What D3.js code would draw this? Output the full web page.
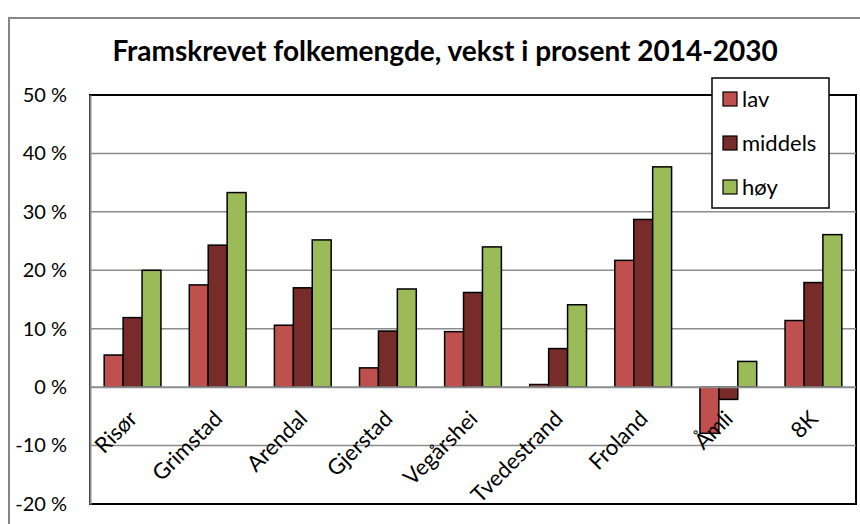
<!DOCTYPE html>
<html>
<head>
<meta charset="utf-8">
<script src="https://cdn.jsdelivr.net/npm/d3@7"></script>
<style>
  body { margin: 0; background: #fff; }
  text { font-family: Lato, "Open Sans", sans-serif; fill: #000; }
</style>
</head>
<body>
<div id="chart"></div>
<script>
const categories = ["Risør", "Grimstad", "Arendal", "Gjerstad", "Vegårshei", "Tvedestrand", "Froland", "Åmli", "8K"]
const seriesNames = ["lav", "middels", "høy"]
const lav = [5.5, 17.5, 10.6, 3.3, 9.5, 0.45, 21.7, -7.9, 11.4]
const middels = [11.9, 24.3, 17.0, 9.6, 16.2, 6.6, 28.7, -2.1, 17.9]
const hoy = [20.0, 33.3, 25.2, 16.8, 24.0, 14.1, 37.7, 4.4, 26.1]
const yTicks = [-20, -10, 0, 10, 20, 30, 40, 50]
const colors = ["#C0504D", "#772C2A", "#9BBB59"]

const width = 860, height = 524
const plot = { left: 90, top: 95, right: 856, bottom: 504 }

const svg = d3.select("#chart").append("svg")
  .attr("width", width)
  .attr("height", height)

// outer chart frame
svg.append("rect")
  .attr("x", 9).attr("y", 18)
  .attr("width", 880).attr("height", 540)
  .attr("fill", "#fff")
  .attr("stroke", "#868686")
  .attr("stroke-width", 2)

svg.append("text")
  .attr("x", 445).attr("y", 61)
  .attr("text-anchor", "middle")
  .style("font-size", "28px")
  .style("font-weight", "bold")
  .text("Framskrevet folkemengde, vekst i prosent 2014-2030")

const x0 = d3.scaleBand()
  .domain(categories)
  .range([plot.left, plot.right])
  .paddingInner(0.333)
  .paddingOuter(0.1667)

const x1 = d3.scaleBand()
  .domain(seriesNames)
  .range([0, x0.bandwidth()])

const y = d3.scaleLinear()
  .domain([-20, 50])
  .range([plot.bottom, plot.top])

// plot area border
svg.append("rect")
  .attr("x", plot.left).attr("y", plot.top)
  .attr("width", plot.right - plot.left)
  .attr("height", plot.bottom - plot.top)
  .attr("fill", "none")
  .attr("stroke", "#000")
  .attr("stroke-width", 2)

// gridlines
svg.append("g")
  .selectAll("line")
  .data(yTicks.filter(d => d !== 50 && d !== -20 && d !== 0))
  .join("line")
  .attr("x1", plot.left).attr("x2", plot.right)
  .attr("y1", d => y(d)).attr("y2", d => y(d))
  .attr("stroke", "#8c8c8c")
  .attr("stroke-width", 1.5)

// y axis
const yAxis = svg.append("g")
  .attr("transform", `translate(${plot.left},0)`)
  .call(d3.axisLeft(y).tickValues(yTicks).tickSize(0).tickPadding(23).tickFormat(d => `${d} %`))
yAxis.select(".domain").attr("stroke", "#8c8c8c").attr("stroke-width", 2)
yAxis.selectAll("text")
  .style("font-size", "20px")
  .style("font-family", "Lato, sans-serif")
  .attr("fill", "#000")

const data = categories.map((c, i) => ({
  cat: c,
  values: [lav[i], middels[i], hoy[i]]
}))

svg.append("g")
  .selectAll("g")
  .data(data)
  .join("g")
  .attr("transform", d => `translate(${x0(d.cat)},0)`)
  .selectAll("rect")
  .data(d => d.values.map((v, j) => ({ key: seriesNames[j], v, j })))
  .join("rect")
  .attr("x", d => x1(d.key))
  .attr("width", x1.bandwidth())
  .attr("y", d => y(Math.max(0, d.v)))
  .attr("height", d => Math.abs(y(d.v) - y(0)))
  .attr("fill", d => colors[d.j])
  .attr("stroke", "#000")
  .attr("stroke-width", 1.5)

// horizontal axis at 0
svg.append("line")
  .attr("x1", plot.left).attr("x2", plot.right)
  .attr("y1", y(0)).attr("y2", y(0))
  .attr("stroke", "#8c8c8c")
  .attr("stroke-width", 2)

// category labels
svg.append("g")
  .selectAll("text")
  .data(categories)
  .join("text")
  .attr("text-anchor", "end")
  .attr("transform", d => `translate(${x0(d) + x0.bandwidth() / 2 + 6},${y(0) + 33}) rotate(-45)`)
  .style("font-size", "22px")
  .text(d => d)

// legend
const legend = svg.append("g").attr("transform", "translate(712,78)")
legend.append("rect")
  .attr("width", 117).attr("height", 130)
  .attr("fill", "#fff")
  .attr("stroke", "#000")
  .attr("stroke-width", 1.5)
const item = legend.selectAll("g.item")
  .data(seriesNames)
  .join("g")
  .attr("class", "item")
  .attr("transform", (d, i) => `translate(11,${21 + i * 44})`)
item.append("rect")
  .attr("x", 0).attr("y", -7)
  .attr("width", 14).attr("height", 14)
  .attr("fill", (d, i) => colors[i])
  .attr("stroke", "#000")
  .attr("stroke-width", 1.2)
item.append("text")
  .attr("x", 19).attr("y", 8)
  .style("font-size", "22px")
  .text(d => d)
</script>
</body>
</html>
